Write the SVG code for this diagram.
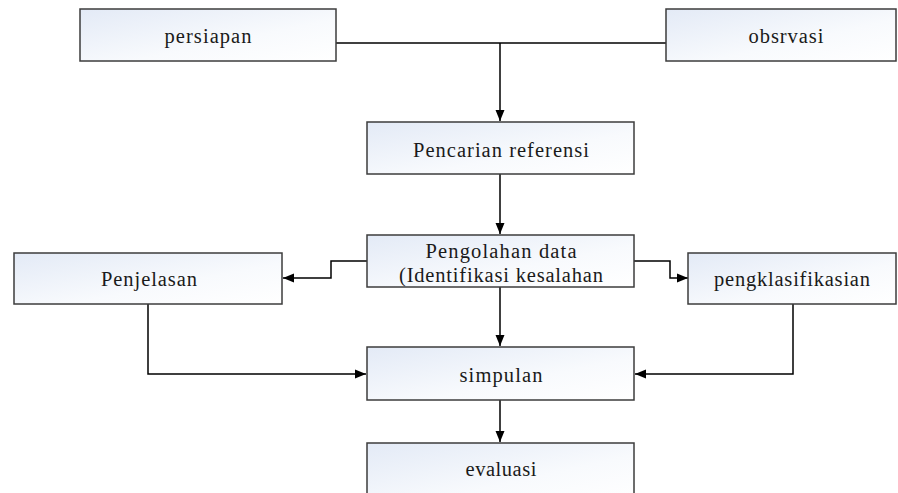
<svg xmlns="http://www.w3.org/2000/svg" width="898" height="493" viewBox="0 0 898 493">
<defs>
<linearGradient id="g" x1="0" y1="0" x2="1" y2="1">
<stop offset="0" stop-color="#e3eaf6"/>
<stop offset="0.6" stop-color="#f8fafd"/>
<stop offset="1" stop-color="#ffffff"/>
</linearGradient>
<marker id="a" markerUnits="userSpaceOnUse" markerWidth="12" markerHeight="10" refX="11" refY="5" orient="auto">
<path d="M0,0.5 L11,5 L0,9.5 z" fill="#000"/>
</marker>
</defs>
<style>
.box{fill:url(#g);stroke:#3c3c3c;stroke-width:1.5}
.t{font-family:"Liberation Serif","Times New Roman",serif;font-size:20.5px;fill:#1a1a1a;text-anchor:middle}
.c{fill:none;stroke:#000;stroke-width:1.5}
</style>
<rect width="898" height="493" fill="#fff"/>
<g id="connectors">
<path class="c" d="M336,43 H666"/>
<path class="c" d="M500,43 V121" marker-end="url(#a)"/>
<path class="c" d="M500,174 V234" marker-end="url(#a)"/>
<path class="c" d="M367,261 H331 V278 H283" marker-end="url(#a)"/>
<path class="c" d="M634,261 H670 V278 H688" marker-end="url(#a)"/>
<path class="c" d="M500,287 V346" marker-end="url(#a)"/>
<path class="c" d="M148,304 V374 H366" marker-end="url(#a)"/>
<path class="c" d="M793,304 V374 H635" marker-end="url(#a)"/>
<path class="c" d="M500,400 V442" marker-end="url(#a)"/>
</g>
<g id="persiapan">
<rect class="box" x="80" y="9" width="256" height="52"/>
<text class="t" x="208" y="43" textLength="87">persiapan</text>
</g>
<g id="obsrvasi">
<rect class="box" x="666" y="9" width="230" height="52"/>
<text class="t" x="786" y="43" textLength="75">obsrvasi</text>
</g>
<g id="pencarian">
<rect class="box" x="367" y="122" width="267" height="52"/>
<text class="t" x="501" y="157" textLength="176">Pencarian referensi</text>
</g>
<g id="pengolahan">
<rect class="box" x="367" y="235" width="267" height="52"/>
<text class="t" x="501" y="258" textLength="151">Pengolahan data</text>
<text class="t" x="501" y="282" textLength="204">(Identifikasi kesalahan</text>
</g>
<g id="penjelasan">
<rect class="box" x="14" y="253" width="268" height="51"/>
<text class="t" x="149" y="286" textLength="96">Penjelasan</text>
</g>
<g id="pengklasifikasian">
<rect class="box" x="688" y="253" width="208" height="51"/>
<text class="t" x="792" y="286" textLength="156">pengklasifikasian</text>
</g>
<g id="simpulan">
<rect class="box" x="367" y="347" width="267" height="53"/>
<text class="t" x="501" y="382" textLength="83">simpulan</text>
</g>
<g id="evaluasi">
<rect class="box" x="367" y="443" width="267" height="60"/>
<text class="t" x="501" y="476" textLength="71">evaluasi</text>
</g>
</svg>
